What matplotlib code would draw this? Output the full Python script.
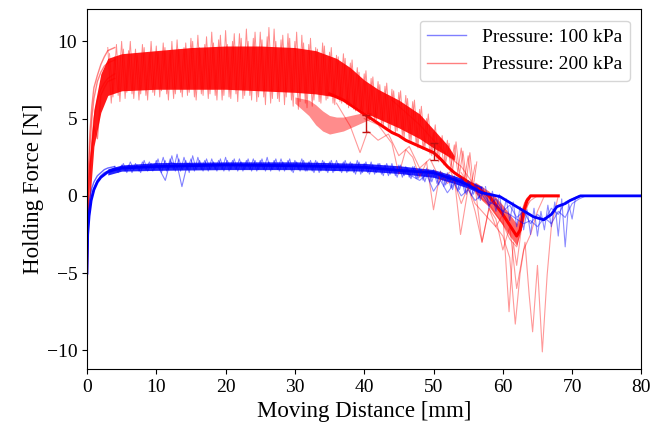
import matplotlib
matplotlib.use("Agg")
import matplotlib.pyplot as plt

plt.rcParams["font.family"] = ["Liberation Serif", "DejaVu Serif"]

# ---------------------------------------------------------------------------
# Values (distance in mm, force in N)
# ---------------------------------------------------------------------------
# 200 kPa: noise envelope, set A (peaks at x.0, troughs at x.5)
red_a_x0 = 3.0
red_hi = [9.6, 9.0, 10.0, 9.4, 9.5, 9.8, 9.2, 9.7, 9.9, 9.4, 10.1, 9.6, 10.2, 10.4,
          9.8, 10.6, 10.1, 10.7, 10.0, 10.5, 10.8, 10.2, 10.6, 10.3, 10.8, 10.1, 10.5,
          10.0, 10.4, 9.8, 9.6, 9.9, 9.3, 9.1, 9.2, 8.6, 8.3, 7.9, 7.6, 7.4, 7.1, 6.9,
          6.7, 6.5, 6.1, 5.6, 5.0, 4.1, 3.7, 3.6, 3.3, 3.1, 2.6, 2.0]
red_lo = [6.0, 6.5, 6.3, 6.6, 6.2, 6.5, 6.7, 6.4, 6.6, 6.3, 6.7, 6.5, 6.4, 6.6, 6.3,
          6.5, 6.2, 6.4, 6.6, 6.3, 6.5, 6.1, 6.4, 6.0, 6.3, 5.9, 6.2, 5.6, 6.0, 5.8,
          6.1, 6.2, 6.0, 6.1, 5.9, 5.6, 5.3, 5.0, 4.8, 4.6, 4.4, 4.1, 3.9, 3.6, 3.3,
          3.0, 2.7, 2.4, 2.0, 1.8, 1.5, 1.1, 0.8]
# 200 kPa: noise envelope, set B (peaks at x.25, troughs at x.75)
red_b_x0 = 3.25
red_hi2 = [9.2, 9.8, 9.5, 10.0, 9.1, 9.6, 10.0, 9.3, 9.6, 10.0, 9.5, 9.9, 10.0, 9.6,
           10.3, 9.9, 10.4, 9.8, 10.5, 10.2, 10.0, 10.6, 10.1, 10.9, 10.0, 10.4, 10.2,
           10.6, 9.9, 10.2, 9.5, 9.7, 9.6, 9.0, 8.9, 8.8, 8.0, 8.1, 7.7, 7.2, 7.3, 6.8,
           6.8, 6.3, 6.2, 5.8, 5.3, 4.6, 3.9, 3.4, 3.5, 2.9, 2.8, 2.2]
red_lo2 = [6.4, 6.1, 6.7, 6.3, 6.6, 6.2, 6.5, 6.8, 6.2, 6.6, 6.4, 6.7, 6.2, 6.5, 6.6,
           6.2, 6.5, 6.3, 6.1, 6.5, 6.2, 6.4, 5.9, 6.3, 6.1, 6.4, 5.8, 6.1, 5.7, 6.2,
           6.0, 6.3, 5.9, 6.0, 5.7, 5.5, 5.2, 4.9, 4.9, 4.5, 4.2, 4.2, 3.7, 3.5, 3.1,
           3.1, 2.6, 2.2, 2.1, 1.6, 1.4, 1.0, 0.6]

# 200 kPa: dense core of the bundle
red_core_x = [0.3, 1, 2, 3, 5, 10, 15, 20, 25, 30, 33, 36, 38, 40, 42, 45, 48, 50, 52, 53]
red_core_lo = [-1.0, 3.2, 5.4, 6.5, 6.8, 6.9, 6.9, 6.9, 6.8, 6.7, 6.6, 6.4, 6.0, 5.4,
               5.0, 4.4, 3.7, 3.1, 2.6, 2.3]
red_core_hi = [2.0, 5.6, 7.9, 8.9, 9.2, 9.4, 9.6, 9.7, 9.7, 9.6, 9.4, 8.9, 8.3, 7.5,
               6.9, 6.2, 5.3, 4.3, 3.3, 2.6]

# 200 kPa: trials that sag early (light loop under the bundle)
red_loop_x = [30, 32, 33, 34, 35, 36, 37, 38, 39, 40, 41]
red_loop_lo = [6.0, 5.2, 4.6, 4.2, 4.0, 4.1, 4.2, 4.4, 4.6, 4.8, 5.0]
red_loop_hi = [6.4, 6.2, 5.9, 5.5, 5.2, 5.1, 5.1, 5.2, 5.3, 5.4, 5.4]

# 200 kPa: bundle of trials around the release dip
red_tail_x = [56, 57, 58, 59, 60, 61, 62, 63, 63.5]
red_tail_lo = [0.2, -0.3, -0.7, -1.3, -1.9, -2.6, -3.2, -1.6, -0.4]
red_tail_hi = [0.9, 0.6, 0.3, -0.1, -0.6, -1.2, -1.8, -0.4, 0.0]

# 200 kPa: start of the trials
red_rise_x = [0, 0.1, 0.2, 0.4, 0.7, 1.0, 1.5, 2.0, 2.5, 3.0, 4.0]
red_rise_a = [-7.0, -4.0, -1.0, 1.5, 3.5, 5.0, 6.2, 6.9, 7.3, 7.6, 7.9]
red_rise_b = [-6.0, -2.5, 0.5, 3.0, 5.0, 6.3, 7.4, 8.0, 8.4, 8.6, 8.8]
red_rise_c = [-5.5, -1.5, 1.5, 4.0, 5.8, 7.0, 7.8, 8.5, 9.0, 9.4, 9.6]
red_rise_d = [-6.5, -3.0, 0.0, 2.0, 3.0, 4.5, 3.7, 6.5, 7.0, 7.4, 7.6]

# 200 kPa: mean trace
red_mean_x = [35, 37, 39, 40, 41, 42, 43, 44, 45, 46, 47, 48, 49, 50, 51, 52, 53, 54,
              55, 56, 57, 58, 59, 60, 61, 62, 62.5, 63, 63.5, 64, 68]
red_mean = [6.6, 6.2, 5.6, 5.3, 5.0, 4.7, 4.4, 4.1, 3.9, 3.6, 3.4, 3.2, 3.0, 2.8, 2.4,
            1.9, 1.5, 1.2, 0.9, 0.6, 0.3, 0.0, -0.6, -1.2, -1.9, -2.6, -2.2, -1.0,
            -0.3, 0.0, 0.0]

# 200 kPa: single trials with deep dips near release
red_t1_x = [36, 38, 39.4, 40.5, 42, 43.5, 45, 46.5, 48, 49.5, 51, 52.5, 54, 55, 56,
            57, 58, 59, 60, 60.9, 61.5, 62, 63, 64, 65]
red_t1 = [6.0, 4.5, 2.8, 4.2, 3.6, 4.0, 2.6, 3.2, 1.8, 2.4, 1.0, 1.6, -0.5, 0.6,
          -1.0, -3.0, -0.8, -2.0, -1.2, -7.5, -3.0, -4.5, -1.0, -0.3, 0.0]
red_t2_x = [40, 42, 44, 45, 46, 47, 48, 49, 50, 51, 52, 53, 53.9, 55, 56, 57, 58, 59,
            60, 61, 61.8, 62.5, 63.2, 63.8, 64.3, 65, 65.7, 66.4, 67, 68]
red_t2 = [5.0, 4.6, 3.4, 1.4, 3.0, 2.5, 1.2, 2.2, -0.9, 1.6, 0.8, 1.2, -2.5, 0.5,
          -0.5, -1.0, -1.5, -2.0, -2.6, -4.0, -8.3, -5.0, -3.0, -6.4, -8.8, -4.5,
          -10.1, -5.1, -2.0, 0.0]
red_t3_x = [44, 46, 48, 50, 52, 54, 56, 57, 58, 59, 60, 61, 62, 63, 64, 65, 66]
red_t3 = [6.2, 5.4, 4.6, 3.6, 2.6, 1.9, 0.6, -3.0, -0.8, -1.5, -3.5, -2.0, -6.0,
          -3.5, -2.5, -1.0, 0.0]
red_t4_x = [54, 55, 56, 57, 58, 59, 60, 61, 62, 63, 64]
red_t4 = [1.5, 0.8, 0.4, -0.2, -0.5, -1.2, -1.8, -2.8, -3.3, -1.5, 0.0]

red_err_x = [40.3, 50.0]
red_err_y = [4.7, 2.85]
red_err = [0.55, 0.55]

# 100 kPa: noise envelope, set A (peaks at x.0, troughs at x.5)
blue_a_x0 = 4.0
blue_hi = [1.9, 2.0, 2.0, 2.1, 2.2, 2.2, 2.3, 2.5, 2.4, 2.7, 2.5, 2.4, 2.5, 2.3, 2.4,
           2.3, 2.5, 2.3, 2.4, 2.3, 2.4, 2.3, 2.5, 2.3, 2.4, 2.3, 2.3, 2.4, 2.2, 2.3,
           2.3, 2.2, 2.3, 2.2, 2.2, 2.3, 2.1, 2.2, 2.1, 2.0, 2.1, 2.0, 1.9, 1.9, 1.8,
           1.8, 1.7, 1.6, 1.5, 1.3, 1.2, 1.0, 0.8, 0.6]
blue_lo = [1.5, 1.6, 1.5, 1.6, 1.7, 1.6, 1.7, 1.6, 1.7, 1.6, 1.7, 1.6, 1.7, 1.6, 1.7,
           1.7, 1.6, 1.7, 1.6, 1.7, 1.6, 1.7, 1.6, 1.7, 1.6, 1.6, 1.7, 1.6, 1.6, 1.5,
           1.6, 1.5, 1.6, 1.5, 1.5, 1.4, 1.5, 1.4, 1.4, 1.3, 1.3, 1.2, 1.2, 1.1, 1.0,
           0.9, 0.8, 0.6, 0.5, 0.3, 0.2, 0.0, -0.2]
# 100 kPa: noise envelope, set B (peaks at x.25, troughs at x.75)
blue_b_x0 = 4.25
blue_hi2 = [1.8, 2.1, 2.2, 2.0, 2.3, 2.1, 2.4, 2.3, 2.6, 2.4, 2.3, 2.6, 2.3, 2.4, 2.2,
            2.4, 2.3, 2.4, 2.2, 2.4, 2.3, 2.4, 2.2, 2.4, 2.2, 2.4, 2.2, 2.3, 2.3, 2.2,
            2.2, 2.3, 2.1, 2.3, 2.1, 2.2, 2.2, 2.0, 2.1, 2.1, 1.9, 2.0, 1.8, 1.9, 1.7,
            1.7, 1.6, 1.5, 1.4, 1.2, 1.1, 0.9, 0.7, 0.5]
blue_lo2 = [1.6, 1.5, 1.7, 1.5, 1.6, 1.7, 1.5, 1.7, 1.6, 1.7, 1.5, 1.7, 1.6, 1.7, 1.6,
            1.6, 1.7, 1.6, 1.7, 1.6, 1.7, 1.6, 1.7, 1.6, 1.7, 1.5, 1.6, 1.6, 1.5, 1.6,
            1.5, 1.6, 1.5, 1.6, 1.4, 1.5, 1.4, 1.5, 1.3, 1.4, 1.2, 1.3, 1.1, 1.1, 0.9,
            0.9, 0.7, 0.7, 0.4, 0.4, 0.1, 0.1, -0.3]

blue_core_x = [3, 5, 10, 20, 30, 40, 45, 50, 53, 55, 57]
blue_core_lo = [1.35, 1.6, 1.65, 1.7, 1.7, 1.6, 1.45, 1.2, 0.8, 0.5, 0.1]
blue_core_hi = [1.75, 2.0, 2.15, 2.2, 2.2, 2.1, 1.95, 1.7, 1.3, 1.0, 0.6]

blue_rise_x = [0, 0.1, 0.2, 0.4, 0.7, 1.0, 1.5, 2.0, 2.5, 3.0, 4.0]
blue_rise_a = [-5.0, -3.0, -1.8, -0.8, 0.0, 0.5, 1.0, 1.3, 1.5, 1.6, 1.8]
blue_rise_b = [-4.5, -2.2, -1.2, -0.2, 0.5, 0.9, 1.3, 1.5, 1.7, 1.8, 1.9]

blue_spike_x = [9, 10, 11.3, 12, 13, 13.7, 14.5, 16]
blue_spike = [1.9, 2.1, 1.0, 2.2, 2.0, 0.6, 2.1, 1.9]

blue_mean_x = [0, 0.1, 0.3, 0.6, 1, 1.5, 2, 3, 4, 5, 10, 20, 30, 40, 45, 50, 52, 54,
               55, 57, 59.6, 62, 64.4, 65.9, 67, 67.8, 69, 69.7, 71.2, 80]
blue_mean = [-5.0, -2.5, -1.3, -0.3, 0.4, 0.9, 1.2, 1.55, 1.7, 1.8, 1.9, 2.0, 1.95,
             1.85, 1.65, 1.5, 1.2, 0.9, 0.7, 0.2, -0.05, -0.7, -1.35, -1.55, -1.2,
             -0.7, -0.5, -0.3, 0.0, 0.0]

blue_end_x = [57.5, 58, 58.5, 59, 59.5, 60, 60.5, 61, 61.5, 62, 62.5, 63, 63.5, 64,
              64.5, 65, 65.5, 66, 66.5, 67, 67.5, 68, 68.5, 69, 69.5, 70, 70.5, 71]
blue_end = [0.6, -0.8, 0.3, -1.0, 0.1, -1.3, -0.2, -1.6, -0.4, -2.0, -0.7, -2.2, -0.9,
            -2.5, -0.8, -2.6, -1.0, -2.2, -0.6, -2.0, -0.4, -2.6, -0.2, -3.3, -0.5,
            -1.5, -0.1, 0.0]
blue_t1_x = [44, 46, 48, 49, 50, 51, 52, 53, 54, 55, 56, 57, 58, 59, 60, 61, 62, 63,
             64, 65, 66, 67, 68, 69, 70, 71]
blue_t1 = [1.7, 1.5, 1.0, 1.4, 0.3, 1.0, 0.2, 0.8, 0.0, 0.4, -0.3, 0.1, -0.6, -0.2,
           -1.0, -0.6, -1.4, -1.0, -1.8, -1.2, -1.6, -0.8, -1.2, -0.4, -0.2, 0.0]
blue_t2_x = [57, 58, 59, 60, 61, 62, 63, 64, 65, 66, 67, 68, 69, 70, 71, 72]
blue_t2 = [0.3, -0.4, -0.6, -1.0, -1.2, -1.5, -1.8, -1.6, -2.0, -1.4, -1.8, -1.0,
           -1.4, -0.5, -0.2, 0.0]


def zigzag(x0, hi, lo):
    """Interleave peaks (every mm from x0) and troughs (half a mm later)."""
    xs, ys = [], []
    for i, h in enumerate(hi):
        xs.append(x0 + i)
        ys.append(h)
        if i < len(lo):
            xs.append(x0 + i + 0.5)
            ys.append(lo[i])
    return xs, ys


fig, ax = plt.subplots(figsize=(6.64, 4.25), dpi=100)
fig.subplots_adjust(left=0.131, right=0.966, top=0.979, bottom=0.132)

# --- 200 kPa ---
ax.fill_between(red_core_x, red_core_lo, red_core_hi, color="red", alpha=0.9, lw=0)
ax.fill_between(red_loop_x, red_loop_lo, red_loop_hi, color="red", alpha=0.45, lw=0)
ax.fill_between(red_tail_x, red_tail_lo, red_tail_hi, color="red", alpha=0.6, lw=0)
for x0, hi, lo in ((red_a_x0, red_hi, red_lo), (red_b_x0, red_hi2, red_lo2)):
    zx, zy = zigzag(x0, hi, lo)
    ax.plot(zx, zy, color="red", lw=0.7, alpha=0.45)
for trace in (red_rise_a, red_rise_b, red_rise_c, red_rise_d):
    ax.plot(red_rise_x, trace, color="red", lw=1.0, alpha=0.5)
for tx, ty in ((red_t1_x, red_t1), (red_t2_x, red_t2), (red_t3_x, red_t3),
               (red_t4_x, red_t4)):
    ax.plot(tx, ty, color="red", lw=0.8, alpha=0.4)
ax.plot(red_mean_x, red_mean, color="red", lw=2.2)
ax.errorbar(red_err_x, red_err_y, yerr=red_err, fmt="none", ecolor="#c01010",
            elinewidth=1.0, capsize=3)

# --- 100 kPa ---
ax.fill_between(blue_core_x, blue_core_lo, blue_core_hi, color="blue", alpha=0.85, lw=0)
for x0, hi, lo in ((blue_a_x0, blue_hi, blue_lo), (blue_b_x0, blue_hi2, blue_lo2)):
    zx, zy = zigzag(x0, hi, lo)
    ax.plot(zx, zy, color="blue", lw=0.7, alpha=0.5)
for trace in (blue_rise_a, blue_rise_b):
    ax.plot(blue_rise_x, trace, color="blue", lw=1.0, alpha=0.6)
ax.plot(blue_spike_x, blue_spike, color="blue", lw=0.8, alpha=0.5)
for tx, ty in ((blue_end_x, blue_end), (blue_t1_x, blue_t1), (blue_t2_x, blue_t2)):
    ax.plot(tx, ty, color="blue", lw=0.8, alpha=0.45)
ax.plot(blue_mean_x, blue_mean, color="blue", lw=2.0)

# legend proxies
ax.plot([], [], color="blue", lw=1.0, alpha=0.5, label="Pressure: 100 kPa")
ax.plot([], [], color="red", lw=1.0, alpha=0.5, label="Pressure: 200 kPa")
ax.legend(loc="upper right", fontsize=14, handlelength=2.0, borderaxespad=0.6)

ax.set_xlim(0, 80)
ax.set_ylim(-11.2, 12.1)
ax.set_xticks(range(0, 81, 10))
ax.set_yticks([-10, -5, 0, 5, 10])
ax.tick_params(labelsize=14)
ax.set_xlabel("Moving Distance [mm]", fontsize=16.5, labelpad=4)
ax.set_ylabel("Holding Force [N]", fontsize=16.5, labelpad=2)

fig.savefig("out.png", dpi=100)
